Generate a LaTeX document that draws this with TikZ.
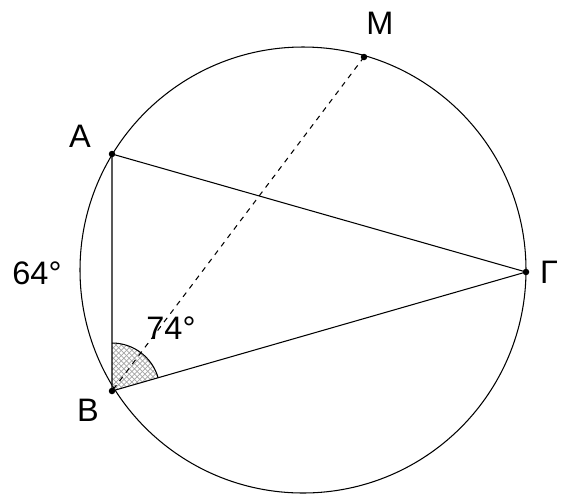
\documentclass[tikz,border=0pt]{standalone}
\usepackage{fontspec}
\setmainfont{Liberation Sans}
\usetikzlibrary{angles, patterns}

\begin{document}
\begin{tikzpicture}[x=0.02cm, y=-0.02cm,
	pt/.style={circle,fill=black,inner sep=0pt,minimum size=1.3mm},
	lbl/.style={font=\fontsize{18.5}{20}\selectfont},
	edge/.style={black,line width=0.6pt}]
\useasboundingbox (0,0) rectangle (561,498);
% circle
\coordinate (O) at (303,270);
\draw[edge] (O) circle[radius=223*0.02cm];
% points on the circle
\foreach \n/\x/\y in {A/112/154,B/112/391,G/526/272,M/364/57}
	\coordinate (\n) at (\x,\y);
% angle at B
\pic[draw, line width=0.6pt, angle radius=0.96cm,
	preaction={fill=gray!25}, pattern=crosshatch, pattern color=gray!70]
	{angle=G--B--A};
% triangle and chord
\draw[edge] (A) -- (B) -- (G) -- cycle;
\draw[edge,dashed] (M) -- (B);
\foreach \n in {A,B,G,M}
	\node[pt] at (\n) {};
% labels
\node[lbl] (lA) at (80,136) {A};
\node[lbl] (lB) at (88,410) {B};
\node[lbl] (lG) at (549,272) {Γ};
\node[lbl] (lM) at (380,23) {M};
\node[lbl] (a64) at (37,273) {64°};
\node[lbl] (a74) at (171,328) {74°};
\end{tikzpicture}
\end{document}
